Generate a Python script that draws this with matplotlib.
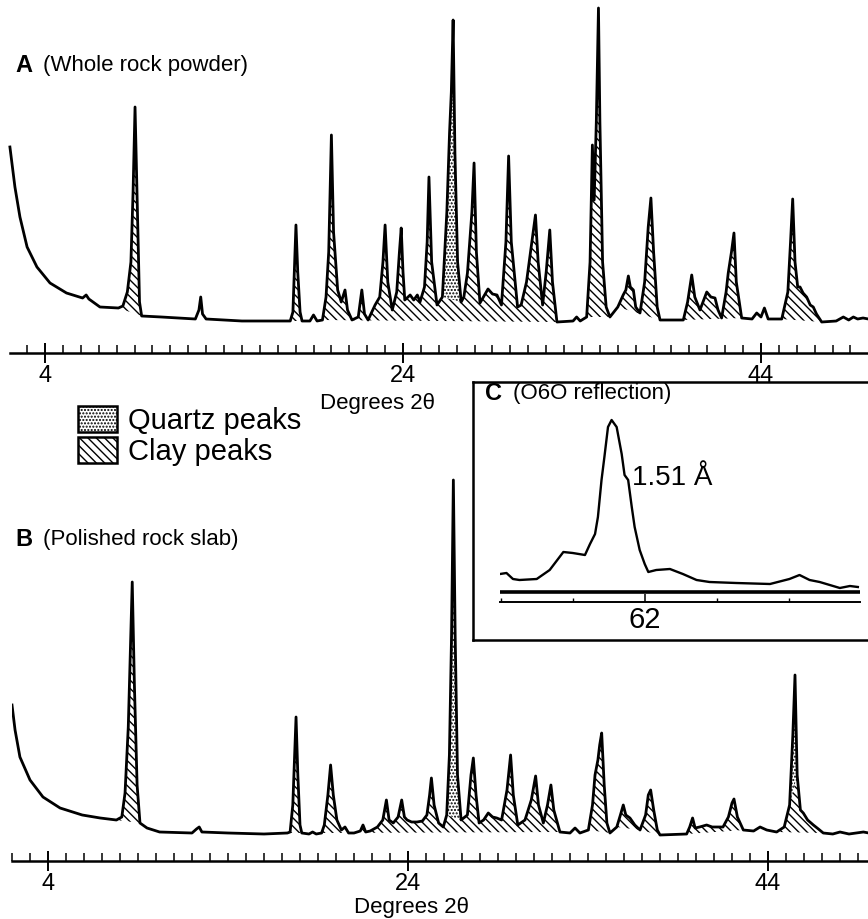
import numpy as np
import matplotlib
matplotlib.use("Agg")
import matplotlib.pyplot as plt
from matplotlib.patches import Patch
from matplotlib.ticker import FixedLocator, MultipleLocator, NullFormatter

plt.rcParams['font.family'] = ['Liberation Sans', 'DejaVu Sans']
plt.rcParams['hatch.linewidth'] = 1.0

W, H = 868, 919

# ---- panel A: whole rock powder (degrees 2theta, intensity) ----
a_deg = [2.04, 2.32, 2.6, 3.0, 3.55, 4.28, 5.2, 6.1, 6.3, 6.45, 7.07, 8.1,
         8.35, 8.6, 8.8, 8.92, 9.03, 9.15, 9.28, 9.4, 10.5, 12.4, 12.6, 12.7, 12.8, 13.0,
         15.0, 17.7, 17.85, 17.95, 18.02, 18.12, 18.25, 18.36, 18.8, 19.0, 19.2, 19.5,
         19.7, 19.85, 20.0, 20.12, 20.35, 20.55, 20.76, 20.9, 21.15, 21.5, 21.7, 21.85,
         22.05, 22.44, 22.7, 22.88, 23.0, 23.15, 23.4, 23.65, 23.8, 23.9, 24.0, 24.1,
         24.4, 24.6, 24.8, 24.95, 25.2, 25.35, 25.45, 25.6, 25.9,
         26.2, 26.45, 26.6, 26.7, 26.8, 26.9, 27.05, 27.25,
         27.4, 27.6, 27.85, 27.97, 28.1, 28.3, 28.75, 29.0, 29.25, 29.5, 29.75, 29.9,
         30.05, 30.4, 30.6, 30.9, 31.2, 31.4, 31.55, 31.8, 32.0, 32.2, 32.35, 32.6,
         33.5, 33.7, 33.9, 34.26, 34.45, 34.58, 34.68, 34.8, 34.92, 35.0, 35.15, 35.35, 35.56,
         36.0, 36.3, 36.45, 36.59, 36.7, 36.87, 37.0, 37.24, 37.5, 37.7, 37.85, 38.0, 38.2, 38.36,
         39.66, 39.9, 40.13, 40.3, 40.59, 40.8, 40.97, 41.2, 41.43, 41.6, 41.8, 42.05, 42.17,
         42.35, 42.49, 42.62, 42.92, 43.5, 43.76, 44.0, 44.19, 44.4, 45.16, 45.5, 45.65, 45.77,
         45.9, 46.05, 46.18, 46.35, 46.55, 46.75, 46.92, 47.1, 47.39, 48.2, 48.6, 48.9, 49.16,
         49.4, 49.7, 50.0]
a_int = [175, 135, 105, 75, 55, 39, 29, 24, 27, 23, 15, 14,
         16, 30, 60, 130, 215, 120, 20, 6, 5, 3, 12, 25, 8, 3,
         1, 1, 10, 60, 97, 50, 10, 1, 1, 7, 1, 2,
         25, 70, 187, 90, 32, 20, 32, 12, 2, 5, 32, 8,
         2, 17, 25, 60, 97, 40, 12, 30, 70, 94, 50, 22,
         27, 22, 27, 20, 35, 80, 145, 60, 17,
         25, 110, 189, 230, 302, 170, 60, 20,
         25, 49, 110, 159, 70, 19, 33, 28, 27, 17, 80, 166,
         80, 15, 17, 40, 80, 107, 60, 17, 50, 92, 40, 0,
         1, 5, 1, 5, 60, 177, 122, 200, 314, 200, 60, 15, 5,
         15, 27, 32, 46, 35, 32, 15, 9, 40, 95, 124, 70, 15, 2,
         2, 20, 47, 25, 12, 22, 30, 25, 24, 12, 4, 30, 49,
         70, 89, 40, 4, 3, 9, 5, 14, 3, 3, 30, 80, 123,
         60, 35, 35, 29, 25, 17, 15, 8, 0, 1, 5, 2, 5,
         3, 4, 3]
a_clay = [(8.1, 9.4), (17.7, 18.36), (19.5, 32.6), (34.26, 35.56),
          (36.0, 38.36), (39.66, 42.92), (45.16, 47.39)]
a_quartz = [(26.2, 27.25)]

# ---- panel B: polished rock slab ----
b_deg = [2.0, 2.17, 2.44, 3.0, 3.72, 4.67, 5.9, 6.9, 7.8,
         8.1, 8.28, 8.46, 8.6, 8.68, 8.8, 8.95, 9.11, 9.5, 10.2, 12.0, 12.25, 12.4, 12.55,
         14.0, 16.0, 17.3, 17.45, 17.6, 17.72, 17.78, 17.88, 18.0, 18.1, 18.5, 18.7, 18.9, 19.2,
         19.35, 19.55, 19.7, 19.85, 20.05, 20.3, 20.5, 20.7, 21.0, 21.35, 21.5, 21.65, 21.9, 22.3,
         22.6, 22.8, 22.95, 23.18, 23.45, 23.65, 23.8, 23.95, 24.2, 24.5, 24.8,
         25.05, 25.2, 25.3, 25.45, 25.7, 25.96,
         26.15, 26.3, 26.42, 26.52, 26.62, 26.75, 26.95,
         27.3, 27.5, 27.63, 27.78, 27.95, 28.2, 28.46, 28.7, 28.93, 29.2, 29.5, 29.7, 29.85, 30.1,
         30.5, 30.85, 31.09, 31.25, 31.52, 31.75, 31.94, 32.1, 32.44,
         33.0, 33.28, 33.55, 34.02, 34.25, 34.39, 34.55, 34.65, 34.76, 34.9, 35.05, 35.22,
         35.6, 35.8, 35.96, 36.1, 36.33, 36.6, 36.89, 37.2, 37.35, 37.48, 37.65, 37.85, 38.0,
         39.48, 39.65, 39.81, 39.95, 40.2, 40.59, 40.9, 41.15, 41.5, 41.8, 42.0, 42.11, 42.3, 42.63,
         43.2, 43.56, 43.93, 44.48, 44.9, 45.2, 45.38, 45.5, 45.62, 45.8, 45.96, 46.2, 46.52,
         46.8, 47.07, 47.6, 48.0, 48.5, 49.3, 49.6]
b_int = [130, 105, 78, 55, 38, 27, 20, 17, 15,
         18, 42, 108, 200, 253, 150, 50, 12, 7, 3, 2, 6, 8, 3,
         2, 1, 2, 3, 30, 90, 118, 60, 10, 2, 1, 3, 1, 2,
         10, 40, 70, 40, 15, 5, 8, 2, 2, 4, 10, 3, 4, 8,
         15, 35, 15, 12, 18, 35, 18, 15, 13, 13, 14,
         20, 40, 57, 30, 12, 8,
         20, 80, 200, 355, 200, 60, 15,
         20, 60, 77, 40, 12, 15, 22, 18, 17, 15, 45, 80, 40, 10,
         15, 35, 59, 30, 12, 30, 50, 25, 3,
         2, 7, 2, 5, 30, 60, 75, 90, 102, 50, 12, 2,
         8, 20, 30, 20, 17, 10, 5, 20, 40, 45, 25, 5, 0,
         1, 8, 17, 7, 8, 10, 8, 8, 8, 18, 32, 36, 18, 5,
         4, 8, 5, 3, 8, 30, 100, 160, 60, 25, 22, 15, 10,
         6, 2, 1, 3, 1, 3, 2]
b_clay = [(7.8, 9.11), (17.3, 18.1), (19.2, 32.44), (34.02, 35.22),
          (35.6, 36.89), (36.89, 38.0), (39.48, 42.63), (44.48, 47.07)]
b_quartz = [(26.15, 26.95), (45.2, 45.62)]

# ---- inset C: 060 reflection ----
c_deg = [59.99, 60.08, 60.17, 60.26, 60.5, 60.68, 60.87, 61.0, 61.17, 61.24, 61.31,
         61.35, 61.4, 61.44, 61.49, 61.54, 61.61, 61.68, 61.72, 61.77, 61.82, 61.86,
         61.93, 62.0, 62.05, 62.16, 62.35, 62.53, 62.72, 62.9, 63.27, 63.74, 64.01,
         64.15, 64.29, 64.43, 64.57, 64.71, 64.85, 64.96]
c_int = [18, 19, 13, 12, 13, 22, 40, 39, 37, 48, 58,
         75, 112, 135, 165, 172, 165, 138, 117, 112, 85, 65,
         42, 28, 20, 22, 23, 18, 12, 10, 9, 8, 13,
         17, 12, 10, 7, 4, 6, 5]

CLAY_HATCH = '\\\\\\\\'
QUARTZ_HATCH = '.....'


def box(x0, y0, x1, y1):
    # pixel box (top-left origin) -> figure fraction rect
    return [x0 / W, 1 - y1 / H, (x1 - x0) / W, (y1 - y0) / H]


def shade(ax, x, y, lo, hi, hatch, z):
    idx = np.where((x >= lo) & (x <= hi))[0]
    xs, ys = x[idx], y[idx]
    # fill down to the chord joining the ends of the shaded stretch
    base = np.interp(xs, [xs[0], xs[-1]], [ys[0], ys[-1]])
    ax.fill_between(xs, base, ys, facecolor='white', edgecolor='black',
                    hatch=hatch, linewidth=0, zorder=z)


def draw_pattern(ax, deg, inten, clay, quartz):
    x = np.array(deg, dtype=float)
    y = np.array(inten, dtype=float)
    for lo, hi in clay:
        shade(ax, x, y, lo, hi, CLAY_HATCH, 2)
    for lo, hi in quartz:
        shade(ax, x, y, lo, hi, QUARTZ_HATCH, 3)
    ax.plot(x, y, color='black', lw=2.0, zorder=4, solid_joinstyle='round')


def style_axis(ax):
    for s in ['top', 'right', 'left']:
        ax.spines[s].set_visible(False)
    ax.spines['bottom'].set_linewidth(1.8)
    ax.set_yticks([])
    ax.xaxis.set_major_locator(FixedLocator([4, 24, 44]))
    ax.xaxis.set_minor_locator(MultipleLocator(1))
    ax.tick_params(axis='x', which='major', direction='inout', length=14, width=1.4,
                   labelsize=17, pad=2)
    ax.tick_params(axis='x', which='minor', direction='in', length=6, width=1.1)
    ax.patch.set_alpha(0)


fig = plt.figure(figsize=(W / 100, H / 100), dpi=100)

# panel A
axA = fig.add_axes(box(10, 0, 868, 353))
draw_pattern(axA, a_deg, a_int, a_clay, a_quartz)
axA.set_xlim(4 + (10 - 45) / 17.9, 4 + (868 - 45) / 17.9)
axA.set_ylim(-31, 322)
style_axis(axA)
for ln in axA.lines:
    ln.set_clip_on(False)

# panel B
axB = fig.add_axes(box(12, 430, 868, 861))
draw_pattern(axB, b_deg, b_int, b_clay, b_quartz)
axB.set_xlim(2.0, 4 + (868 - 48) / 18)
axB.set_ylim(-26, 405)
style_axis(axB)

# inset C frame
axF = fig.add_axes(box(473, 382, 880, 640))
axF.set_xticks([])
axF.set_yticks([])
for s in axF.spines.values():
    s.set_linewidth(1.8)
axF.set_zorder(5)

axC = fig.add_axes(box(500, 400, 860, 602))
axC.plot(c_deg, c_int, color='black', lw=1.7)
axC.axhline(0, color='black', lw=2.6)
axC.set_xlim(59.99, 64.99)
axC.set_ylim(-10, 192)
for s in ['top', 'right', 'left']:
    axC.spines[s].set_visible(False)
axC.spines['bottom'].set_linewidth(1.4)
axC.set_yticks([])
axC.xaxis.set_major_locator(FixedLocator([62]))
axC.xaxis.set_minor_locator(FixedLocator([60, 61, 63, 64, 65]))
axC.xaxis.set_minor_formatter(NullFormatter())
axC.tick_params(axis='x', which='major', direction='in', length=6, width=1.1,
                labelsize=21, pad=3)
axC.tick_params(axis='x', which='minor', direction='in', length=3, width=1.0)
axC.patch.set_alpha(0)
axC.set_zorder(6)

# labels
fig.text(15 / W, 1 - 65 / H, 'A', fontsize=17, fontweight='bold', va='center')
fig.text(43 / W, 1 - 65 / H, '(Whole rock powder)', fontsize=16, va='center')
fig.text(15 / W, 1 - 540 / H, 'B', fontsize=17, fontweight='bold', va='center')
fig.text(43 / W, 1 - 540 / H, '(Polished rock slab)', fontsize=16, va='center')
fig.text(485 / W, 1 - 394 / H, 'C', fontsize=17, fontweight='bold', va='center', zorder=10)
fig.text(513 / W, 1 - 394 / H, '(O6O reflection)', fontsize=16, va='center', zorder=10)
fig.text(632 / W, 1 - 478 / H, '1.51 Å', fontsize=20, va='center', zorder=10)
fig.text(378 / W, 1 - 403 / H, 'Degrees 2θ', fontsize=16, ha='center', va='center')
fig.text(412 / W, 1 - 907 / H, 'Degrees 2θ', fontsize=16, ha='center', va='center')

handles = [Patch(facecolor='white', edgecolor='black', hatch=QUARTZ_HATCH, lw=1.8,
                 label='Quartz peaks'),
           Patch(facecolor='white', edgecolor='black', hatch=CLAY_HATCH, lw=1.8,
                 label='Clay peaks')]
fig.legend(handles=handles, loc='upper left', bbox_to_anchor=(78 / W, 1 - 406 / H),
           frameon=False, fontsize=21, borderpad=0, borderaxespad=0,
           handlelength=1.35, handleheight=1.0, handletextpad=0.35, labelspacing=0.05)

fig.savefig('out.png', dpi=100)
